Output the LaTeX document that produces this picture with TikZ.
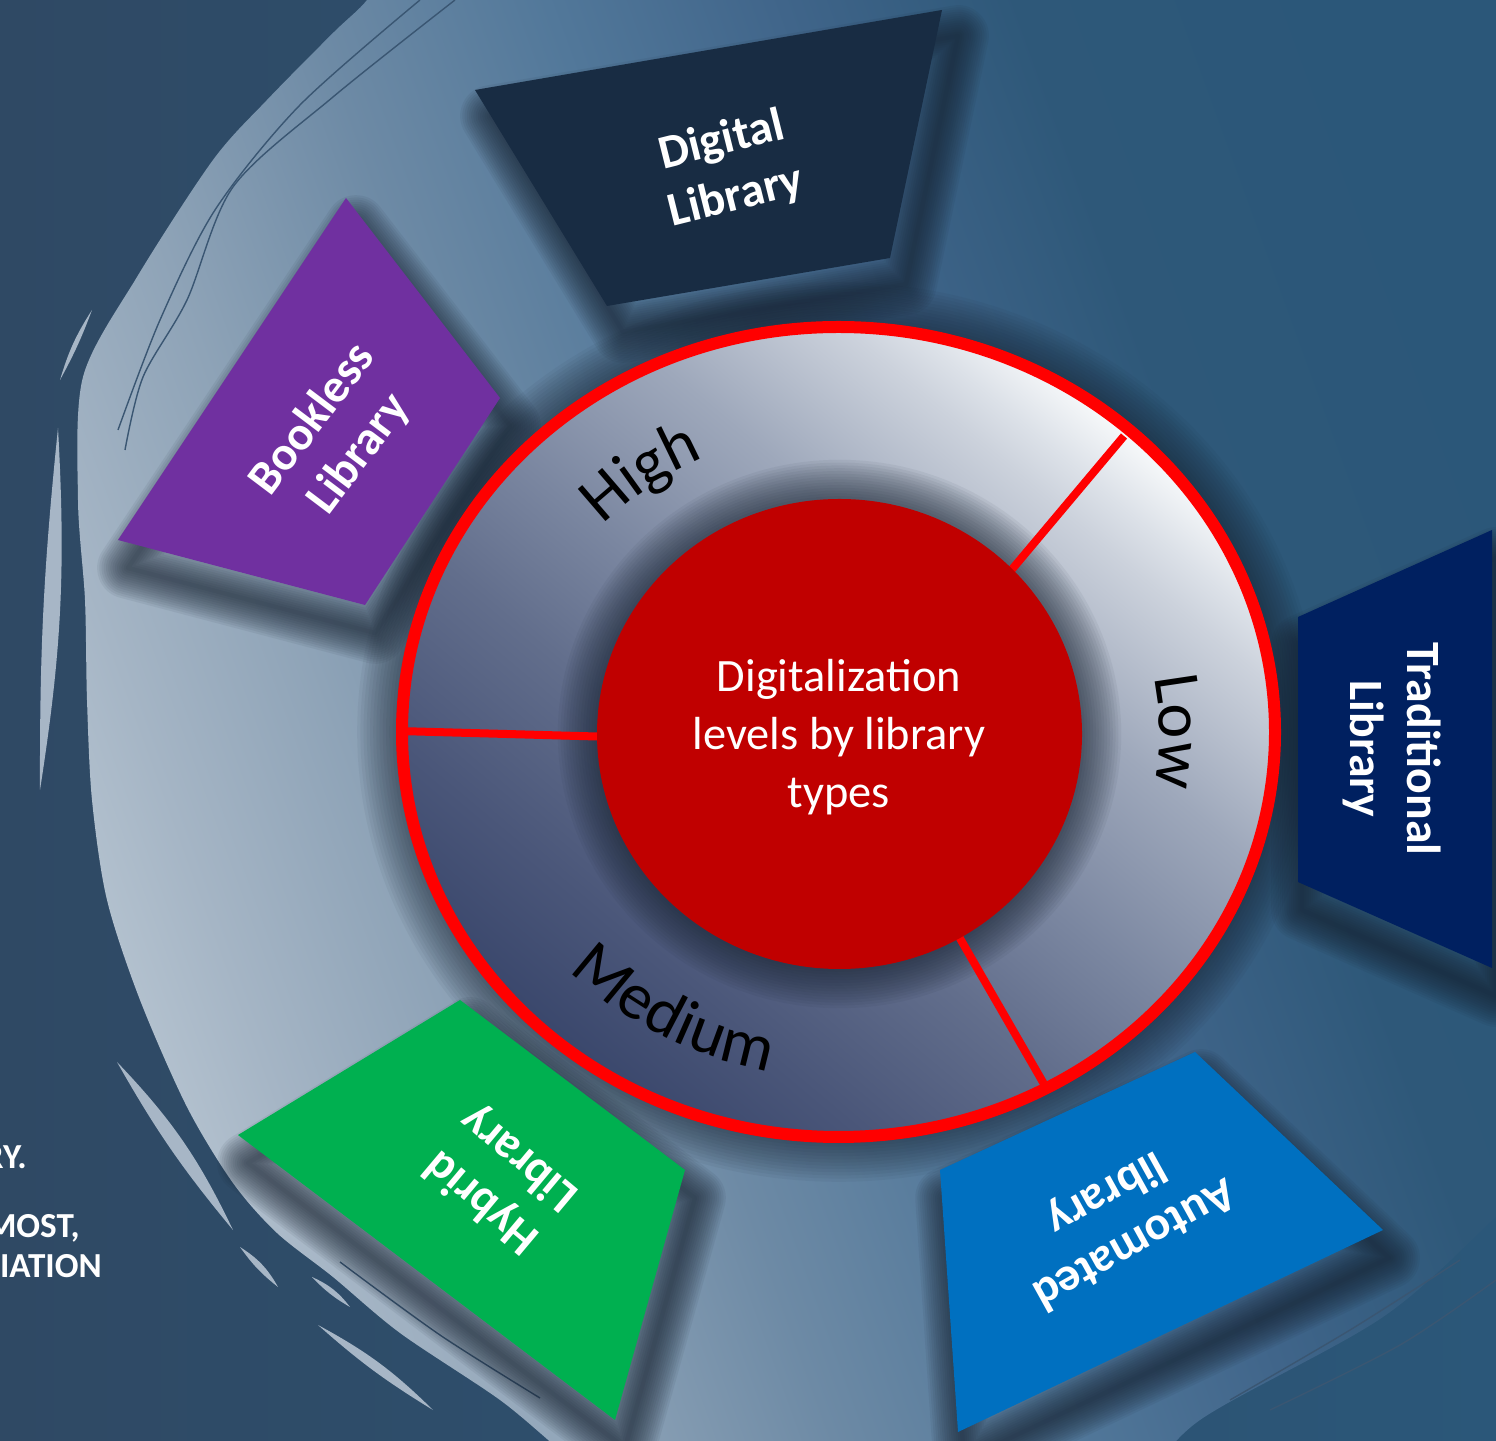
\documentclass[tikz,border=0pt]{standalone}
\usepackage{fontspec}
\setmainfont{Carlito}
\usetikzlibrary{decorations.text,calc}

\definecolor{bgL}{HTML}{2F4964}
\definecolor{bgR}{HTML}{2B5779}
\definecolor{brA}{HTML}{2B5779}
\definecolor{brB}{HTML}{2E5879}
\definecolor{brC}{HTML}{40658A}
\definecolor{brD}{HTML}{52789A}
\definecolor{brE}{HTML}{6D8AA5}
\definecolor{brF}{HTML}{8EA3B7}
\definecolor{brG}{HTML}{A5B5C5}
\definecolor{brH}{HTML}{B4C2CF}
\definecolor{brushDark}{HTML}{3A5672}
\definecolor{streakC}{HTML}{A7B6C6}
\definecolor{ringA}{HTML}{3A476C}
\definecolor{ringB}{HTML}{4A5679}
\definecolor{ringC}{HTML}{626E8C}
\definecolor{ringD}{HTML}{7A86A0}
\definecolor{ringE}{HTML}{9EA8BB}
\definecolor{ringF}{HTML}{CCD2DC}
\definecolor{ringG}{HTML}{DCE1E8}
\definecolor{ringH}{HTML}{F8FAFB}
\definecolor{ringRed}{HTML}{FF0000}
\definecolor{coreRed}{HTML}{C00000}
\definecolor{shadowInk}{HTML}{15202E}
\definecolor{digitalC}{HTML}{182C43}
\definecolor{booklessC}{HTML}{7030A0}
\definecolor{traditionalC}{HTML}{002060}
\definecolor{automatedC}{HTML}{0070C0}
\definecolor{hybridC}{HTML}{00B050}

% brushed disc: light towards the lower left, fading into the backdrop
\pgfdeclareverticalshading{brushfade}{100bp}{color(0bp)=(brA); color(25bp)=(brA);
  color(35bp)=(brB); color(42.5bp)=(brC); color(50bp)=(brD); color(57.5bp)=(brE);
  color(65bp)=(brF); color(71.25bp)=(brG); color(75bp)=(brH); color(100bp)=(brH)}

% metallic ring gradient (mid 50bp band spans the ring)
\pgfdeclareverticalshading{ringmetal}{100bp}{color(0bp)=(ringA); color(25bp)=(ringA);
  color(32.5bp)=(ringB); color(42.5bp)=(ringC); color(50bp)=(ringD);
  color(60bp)=(ringE); color(68.75bp)=(ringF); color(71.25bp)=(ringG);
  color(75bp)=(ringH); color(100bp)=(ringH)}

\newcommand\lvlfont{\fontsize{47}{56}\selectfont}

% soft shadow: stacked translucent strokes of growing width
% #1 path, #2 shift, #3 width step, #4 opacity per layer
\newcommand\softshadow[4]{%
  \foreach \k in {1,...,14}{%
    \draw[shadowInk,opacity=#4,line width=\k*#3,line join=round,shift={#2}] #1;}}

\begin{document}
\begin{tikzpicture}[x=0.25mm,y=0.25mm,
  paneltext/.style={text=white,font=\bfseries\fontsize{34}{41}\selectfont,
      align=center,inner sep=0pt},
  coretext/.style={text=white,font=\fontsize{33}{41.3}\selectfont,
      align=center,inner sep=0pt},
  fragment/.style={text=white,font=\bfseries\fontsize{25}{30}\selectfont,
      inner sep=0pt,anchor=base east},
  divider/.style={draw=ringRed,line width=2mm},
  grain/.style={draw=brushDark,line width=0.35mm},
  streak/.style={fill=streakC}
]
\useasboundingbox (0,0) rectangle (1496,1440);
\clip (0,0) rectangle (1496,1440);

% backdrop
\shade[left color=bgL,right color=bgR] (0,0) rectangle (1496,1440);

% large brushed disc behind the diagram
\shade[shading=brushfade,shading angle=110]
  plot[smooth,tension=0.5] coordinates {(390,1480) (367,1440) (333,1407)
    (267,1340) (213,1280) (137,1163) (83,1063) (78,940) (85,840) (87,740)
    (92,640) (107,540) (140,440) (187,333) (233,257) (277,207) (333,163)
    (400,107) (500,40) (560,-10) (600,-40)}
  -- (1150,-40)
  -- plot[smooth,tension=0.55] coordinates {(1150,-40) (1200,20) (1383,123)
    (1496,223) (1540,262)}
  -- (1540,1480) -- cycle;

% loose bristle streaks outside the disc
\fill[streak] (117,378) to[bend left=9] (233,210) to[bend left=5] cycle;
\fill[streak] (240,193) to[bend left=14] (278,153) to[bend left=8] cycle;
\fill[streak] (312,163) to[bend left=14] (350,133) to[bend left=8] cycle;
\fill[streak] (318,115) to[bend left=8] (433,30) to[bend left=5] cycle;
\fill[streak] (58,1012) to[bend right=3] (40,650) to[bend right=6] cycle;
\fill[streak] (60,1060) to[bend left=8] (92,1130) to[bend left=4] cycle;

% fine grain lines along the brushed rim
\draw[grain] plot[smooth] coordinates {(455,1440) (333,1343) (233,1253) (187,1140) (143,1063) (125,990)};
\draw[grain] plot[smooth] coordinates {(420,1440) (300,1335) (215,1230) (160,1120) (118,1010)};
\draw[grain] plot[smooth] coordinates {(340,178) (440,105) (540,42)};
\draw[grain] plot[smooth] coordinates {(1230,40) (1350,110) (1460,180)};
\draw[grain] plot[smooth] coordinates {(1270,30) (1400,95) (1496,160)};

% shadows under the panels and the ring
\coordinate (ringc) at (838.5,708);
\softshadow{(ringc) ellipse [x radius=436.5,y radius=405]}{(-4,-8)}{1.6mm}{0.05}
\softshadow{(475,1350) -- (942,1430) -- (890,1182) -- (607,1134) -- cycle}{(16,-26)}{1.1mm}{0.065}
\softshadow{(346,1242) -- (500,1042) -- (365,835) -- (118,900) -- cycle}{(10,-28)}{1.1mm}{0.065}
\softshadow{(1298,823) -- (1492,910) -- (1492,472) -- (1298,558) -- cycle}{(4,-28)}{1.1mm}{0.065}
\softshadow{(940,270) -- (1195,388) -- (1383,210) -- (958,8) -- cycle}{(6,-28)}{1.1mm}{0.065}
\softshadow{(238,305) -- (460,440) -- (685,270) -- (615,20) -- cycle}{(10,-28)}{1.1mm}{0.065}

% library type panels
\fill[digitalC] (475,1350) -- (942,1430) -- (890,1182) -- (607,1134) -- cycle;
\node[paneltext,rotate=14] (digital) at (729,1271) {Digital\\Library};

\fill[booklessC] (346,1242) -- (500,1042) -- (365,835) -- (118,900) -- cycle;
\node[paneltext,rotate=53] (bookless) at (336,1003) {Bookless\\Library};

\fill[traditionalC] (1298,823) -- (1492,910) -- (1492,472) -- (1298,558) -- cycle;
\node[paneltext,rotate=-90] (traditional) at (1392,691) {Traditional\\Library};

\fill[automatedC] (940,270) -- (1195,388) -- (1383,210) -- (958,8) -- cycle;
\node[paneltext,rotate=209] (automated) at (1120,222) {Automated\\library};

\fill[hybridC] (238,305) -- (460,440) -- (685,270) -- (615,20) -- cycle;
\node[paneltext,rotate=140] (hybrid) at (501,260) {Hybrid\\Library};

% level ring
\shade[shading=ringmetal,shading angle=-40]
  (ringc) ellipse [x radius=436.5,y radius=405];

% shadow of the central disc falling on the ring
\coordinate (corec) at (839.5,706);
\begin{scope}
  \clip (ringc) ellipse [x radius=436.5,y radius=405];
  \softshadow{(corec) ellipse [x radius=242.5,y radius=235]}{(2,-14)}{1.4mm}{0.055}
\end{scope}

% segment dividers
\coordinate (ur in) at (998,854);
\coordinate (ur out) at (1124,1004);
\coordinate (l in) at (615,703);
\coordinate (l out) at (398,709);
\coordinate (lr in) at (954,512);
\coordinate (lr out) at (1048,349);
\draw[divider] (ur in) -- (ur out);
\draw[divider] (l in) -- (l out);
\draw[divider] (lr in) -- (lr out);

\draw[ringRed,line width=3mm] (ringc) ellipse [x radius=436.5,y radius=405];

% level labels following the ring
\path[decorate,decoration={text along path,text align=center,
    text={|\lvlfont|High}}]
  ($(ringc)+(158:324 and 301)$) arc[start angle=158,end angle=94,x radius=324,y radius=301];
\path[decorate,decoration={text along path,text align=center,
    text={|\lvlfont|Low}}]
  ($(ringc)+(18:321 and 298)$) arc[start angle=18,end angle=-18,x radius=321,y radius=298];
\path[decorate,decoration={text along path,text align=center,
    text={|\lvlfont|Medium}}]
  ($(ringc)+(204:372 and 345)$) arc[start angle=204,end angle=278,x radius=372,y radius=345];

% central disc
\fill[coreRed] (corec) ellipse [x radius=242.5,y radius=235];
\node[coretext] (core label) at (839,703) {Digitalization\\levels by library\\types};

% text running in from the left edge
\node[fragment] (frag a) at (27,272) {RY.};
\node[fragment] (frag b) at (80,203) {MOST,};
\node[fragment] (frag c) at (102,163) {IATION};
\end{tikzpicture}
\end{document}
